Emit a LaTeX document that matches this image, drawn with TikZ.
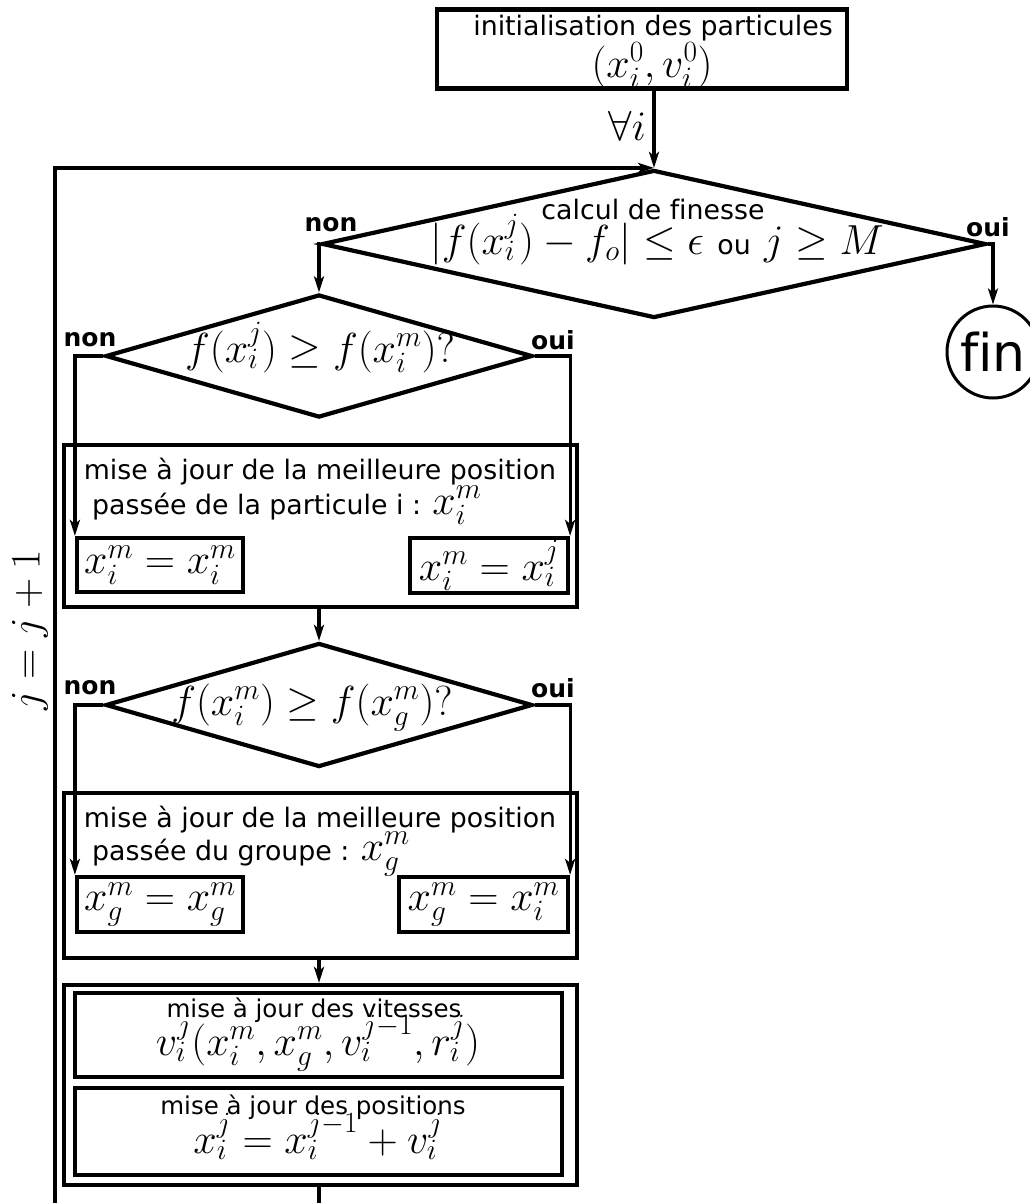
\RequirePackage{fix-cm}
\documentclass[tikz,border=0pt]{standalone}
\usepackage[no-math]{fontspec}
\setmainfont{DejaVu Sans}
\usetikzlibrary{shapes.geometric,arrows.meta}
\newcommand{\txtfont}{\fontsize{26.8}{30}\selectfont}
\newcommand{\mthfont}{\fontsize{42}{48}\selectfont}
\begin{document}
\begin{tikzpicture}[x=1pt,y=-1pt,
  conn/.style={line width=3.2pt},
  arr/.style={conn,-{Stealth[length=16pt,width=10pt,inset=4pt]}},
  loopline/.style={line width=4pt,-{Stealth[length=16pt,width=10pt,inset=4pt]}},
  boxnode/.style={draw,line width=4.2pt,inner sep=0pt,rectangle},
  decision/.style={draw,line width=4.2pt,diamond,inner sep=0pt},
  txt/.style={inner sep=0pt,font=\txtfont},
  txtc/.style={inner sep=0pt,font=\fontsize{24.5}{28}\selectfont},
  mth/.style={inner sep=0pt,font=\mthfont},
  lab/.style={inner sep=0pt,font=\fontsize{25}{28}\selectfont\bfseries},
]
\useasboundingbox (0,0) rectangle (1030,1203);
\clip (0,0) rectangle (1030,1203);

% initialisation
\node[boxnode,minimum width=410pt,minimum height=79pt] (init) at (642,49) {};
\node[txt,anchor=base] (initt) at (653,35) {initialisation des particules};
\node[mth,anchor=base] (initm) at (652,77) {$(x_i^0,v_i^0)$};

% decision 1
\node[decision,minimum width=664pt,minimum height=148pt] (d1) at (654,244) {};
\node[txt,anchor=base] (d1t) at (653,219) {calcul de f\kern0pt inesse};
\node[mth,anchor=base] (d1m) at (657,254) {$|f(x_i^j)-f_o|\le\epsilon$ {\txtfont ou} $j\ge M$};
\node[lab] (n1) at (331,225) {non};
\node[lab] (o1) at (988,227) {oui};

\draw[arr] (init.south -| d1.north) -- (d1.north);
\node[mth,anchor=base east] (forall) at (646,140) {$\forall i$};

% fin
\node[draw,circle,line width=3pt,minimum size=92pt,inner sep=0pt,font=\fontsize{52}{56}\selectfont] (fin) at (993,352) {f\kern0pt in};
\draw[arr] (d1.east) -| (fin.north);

% decision 2
\node[decision,minimum width=427pt,minimum height=123pt] (d2) at (319,356) {};
\node[mth,anchor=base] (d2m) at (320,362) {$f(x_i^j)\ge f(x_i^m)?$};
\node[lab] (n2) at (90,340) {non};
\node[lab] (o2) at (553,340) {oui};
\draw[arr] (d1.west) -| (d2.north);

% box A
\node[boxnode,minimum width=513pt,minimum height=162pt] (A) at (320.5,526) {};
\node[txt,anchor=base] (At1) at (320,479) {mise à jour de la meilleure position};
\node[txt,anchor=base west] (At2) at (92,514) {passée de la particule i : {\mthfont$x_i^m$}};
\node[boxnode,font=\mthfont,minimum width=166pt,minimum height=54pt] (A1) at (160,565) {$x_i^m=x_i^m$};
\node[boxnode,font=\mthfont,minimum width=158pt,minimum height=55pt] (A2) at (489,565.5) {$x_i^m=x_i^j$};
\draw[arr] (d2.west) -| (A1.north west);
\draw[arr] (d2.east) -| (A2.north east);

% decision 3
\node[decision,minimum width=427pt,minimum height=124pt] (d3) at (319,705) {};
\node[mth,anchor=base] (d3m) at (312,715) {$f(x_i^m)\ge f(x_g^m)?$};
\node[lab] (n3) at (90,688) {non};
\node[lab] (o3) at (553,688) {oui};
\draw[arr] (A.south -| d3.north) -- (d3.north);

% box B
\node[boxnode,minimum width=513pt,minimum height=165pt] (B) at (320.5,875.5) {};
\node[txt,anchor=base] (Bt1) at (320,827) {mise à jour de la meilleure position};
\node[txt,anchor=base west] (Bt2) at (92,860) {passée du groupe : {\mthfont$x_g^m$}};
\node[boxnode,font=\mthfont,minimum width=166pt,minimum height=55pt] (B1) at (160,904.5) {$x_g^m=x_g^m$};
\node[boxnode,font=\mthfont,minimum width=169pt,minimum height=55pt] (B2) at (483.5,904.5) {$x_g^m=x_i^m$};
\draw[arr] (d3.west) -| (B1.north west);
\draw[arr] (d3.east) -| (B2.north east);

% box C
\node[boxnode,minimum width=513pt,minimum height=200pt] (C) at (320.5,1085) {};
\node[boxnode,minimum width=487pt,minimum height=84pt] (C1) at (318.5,1035) {};
\node[boxnode,minimum width=487pt,minimum height=87pt] (C2) at (318.5,1131.5) {};
\node[txtc,anchor=base] (C1t) at (314,1017) {mise à jour des vitesses};
\node[mth,anchor=base] (C1m) at (318,1055) {$v_i^j(x_i^m,x_g^m,v_i^{j-1},r_i^j)$};
\node[txtc,anchor=base] (C2t) at (313,1114) {mise à jour des positions};
\node[mth,anchor=base] (C2m) at (318,1153) {$x_i^j=x_i^{j-1}+v_i^j$};
\draw[arr] (B.south -| d3.north) -- (C.north -| d3.north);

% loop back
\coordinate (bl) at (55,1240);
\draw[loopline] (C.south -| d3.north) |- (bl) |- (d1.north);
\node[mth,rotate=90] (jj) at (30,630) {$j=j+1$};
\end{tikzpicture}
\end{document}
